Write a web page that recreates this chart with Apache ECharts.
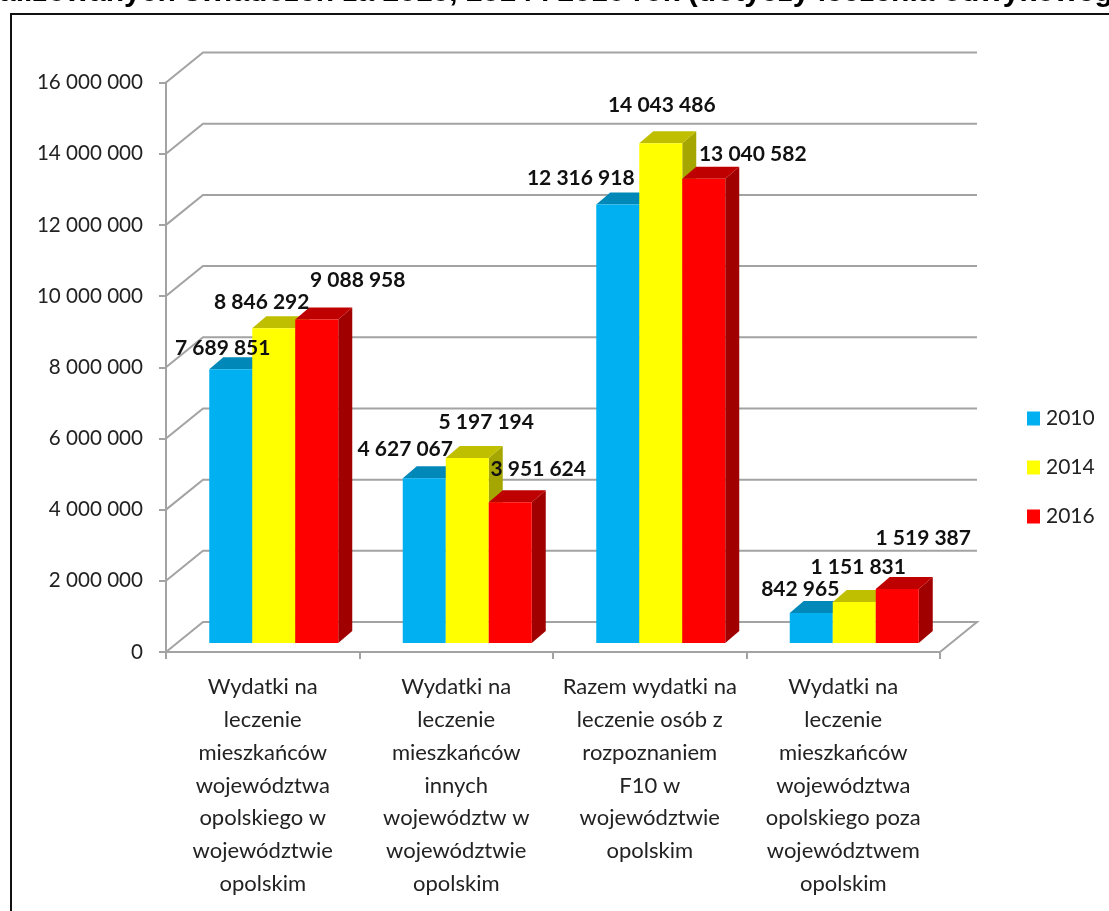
<!DOCTYPE html>
<html>
<head>
<meta charset="utf-8">
<title>Wydatki</title>
<script src="https://cdn.jsdelivr.net/npm/echarts@6/dist/echarts.min.js"></script>
<style>
    html, body { margin: 0; padding: 0; background: #fff; }
    #chart { width: 1109px; height: 911px; }
</style>
</head>
<body>
<div id="chart"></div>
<script>
const categories = [
    'Wydatki na\nleczenie\nmieszkańców\nwojewództwa\nopolskiego w\nwojewództwie\nopolskim',
    'Wydatki na\nleczenie\nmieszkańców\ninnych\nwojewództw w\nwojewództwie\nopolskim',
    'Razem wydatki na\nleczenie osób z\nrozpoznaniem\nF10 w\nwojewództwie\nopolskim',
    'Wydatki na\nleczenie\nmieszkańców\nwojewództwa\nopolskiego poza\nwojewództwem\nopolskim'
];
const values2010 = [7689851, 4627067, 12316918, 842965];
const values2014 = [8846292, 5197194, 14043486, 1151831];
const values2016 = [9088958, 3951624, 13040582, 1519387];
const yTicks = [0, 2000000, 4000000, 6000000, 8000000, 10000000, 12000000, 14000000, 16000000];
const years = ['2010', '2014', '2016'];

// labels were dragged by hand in the original, so each one has its own nudge
const nudge2010 = [[-8, -21], [-19, -29], [-37, -26], [-11, -24]];
const nudge2014 = [[-12, -26], [19, -36], [1, -38], [4, -35]];
const nudge2016 = [[41, -39], [28, -33], [49, -25], [26, -51]];

const FONT = 'Lato';
const GRID_COLOR = '#a3a3a3';
const WALL_DX = 37, WALL_DY = -30;
const BAR_W = 43, BAR_SHIFT_X = 11, BAR_SHIFT_Y = -9;
const DEPTH_DX = 14, DEPTH_DY = -12;

function fmt(v) {
    return String(v).replace(/\B(?=(\d{3})+(?!\d))/g, ' ');
}

function renderWall(params, api) {
    const v = api.value(0);
    const half = api.size([1, 0])[0] / 2;
    const left = api.coord([0, v]);
    const right = api.coord([categories.length - 1, v]);
    const x0 = left[0] - half, x1 = right[0] + half, y = left[1];
    const style = { stroke: GRID_COLOR, lineWidth: 2, fill: null };
    const points = [[x0, y], [x0 + WALL_DX, y + WALL_DY], [x1 + WALL_DX, y + WALL_DY]];
    if (v === 0) points.push([x1, y]);
    return { type: 'polyline', shape: { points: points }, style: style, silent: true };
}

function barRenderer(seriesIdx, front, top, side, nudge) {
    return function (params, api) {
        const cat = api.value(0), val = api.value(1);
        const c = api.coord([cat, val]);
        const base = api.coord([cat, 0]);
        const x = c[0] + BAR_SHIFT_X - BAR_W * 1.5 + seriesIdx * BAR_W;
        const yTop = c[1] + BAR_SHIFT_Y, yBot = base[1] + BAR_SHIFT_Y;
        const xr = x + BAR_W;
        const n = nudge[params.dataIndex];
        return {
            type: 'group',
            children: [
                {
                    type: 'polygon',
                    shape: { points: [[xr, yTop], [xr + DEPTH_DX, yTop + DEPTH_DY], [xr + DEPTH_DX, yBot + DEPTH_DY], [xr, yBot]] },
                    style: { fill: side }
                },
                {
                    type: 'polygon',
                    shape: { points: [[x, yTop], [x + DEPTH_DX, yTop + DEPTH_DY], [xr + DEPTH_DX, yTop + DEPTH_DY], [xr, yTop]] },
                    style: { fill: top }
                },
                {
                    type: 'rect',
                    shape: { x: x, y: yTop, width: BAR_W, height: yBot - yTop },
                    style: { fill: front }
                },
                {
                    type: 'text',
                    z2: 100,
                    style: {
                        x: x + BAR_W / 2 + n[0],
                        y: yTop + n[1],
                        text: fmt(val),
                        align: 'center',
                        verticalAlign: 'middle',
                        fill: '#111',
                        font: 'bold 21px ' + FONT
                    }
                }
            ]
        };
    };
}

function barSeries(idx, values, front, top, side, nudge) {
    return {
        name: years[idx],
        type: 'custom',
        coordinateSystem: 'cartesian2d',
        itemStyle: { color: front },
        renderItem: barRenderer(idx, front, top, side, nudge),
        encode: { x: 0, y: 1 },
        data: values.map((v, i) => [i, v]),
        z: 3
    };
}

const chart = echarts.init(document.getElementById('chart'));
chart.setOption({
    animation: false,
    backgroundColor: '#fff',
    title: {
        text: 'alizowanych świadczeń za 2010, 2014 i 2016 rok (dotyczy leczenia odwykowego',
        left: -1,
        top: -22,
        padding: 0,
        textStyle: { fontFamily: 'Liberation Sans', fontWeight: 'bold', fontSize: 30, color: '#000' }
    },
    legend: {
        left: 1027,
        top: 408,
        padding: 0,
        orient: 'vertical',
        data: years,
        icon: 'rect',
        itemWidth: 13,
        itemHeight: 14,
        itemGap: 28,
        textStyle: { fontFamily: FONT, fontSize: 21, color: '#222', padding: [0, 0, 0, 1] }
    },
    grid: { left: 166, right: 169, top: 82.5, bottom: 259 },
    xAxis: {
        type: 'category',
        data: categories,
        axisLine: { lineStyle: { color: GRID_COLOR, width: 2 } },
        axisTick: { show: true, length: 7, alignWithLabel: false, lineStyle: { color: GRID_COLOR, width: 2 } },
        axisLabel: {
            interval: 0,
            margin: 19,
            fontFamily: FONT,
            fontSize: 22,
            lineHeight: 32.7,
            color: '#222'
        },
        splitLine: { show: false }
    },
    yAxis: {
        type: 'value',
        min: 0,
        max: 16000000,
        interval: 2000000,
        axisLine: { show: true, lineStyle: { color: GRID_COLOR, width: 2 } },
        axisTick: { show: true, length: 7, lineStyle: { color: GRID_COLOR, width: 2 } },
        axisLabel: {
            margin: 23,
            fontFamily: FONT,
            fontSize: 20.6,
            color: '#222',
            formatter: fmt
        },
        splitLine: { show: false }
    },
    graphic: [{
        type: 'rect',
        shape: { x: 11, y: 14, width: 1300, height: 1100 },
        style: { fill: null, stroke: '#111', lineWidth: 2 },
        silent: true,
        z: 0
    }],
    series: [
        {
            name: 'wall',
            type: 'custom',
            coordinateSystem: 'cartesian2d',
            renderItem: renderWall,
            encode: { y: 0 },
            data: yTicks.map(v => [v]),
            silent: true,
            z: 1
        },
        barSeries(0, values2010, '#00b0f0', '#0088b8', '#00779f', nudge2010),
        barSeries(1, values2014, '#ffff00', '#bfbf00', '#a6a600', nudge2014),
        barSeries(2, values2016, '#ff0000', '#bf0000', '#a00000', nudge2016)
    ]
});
</script>
</body>
</html>
